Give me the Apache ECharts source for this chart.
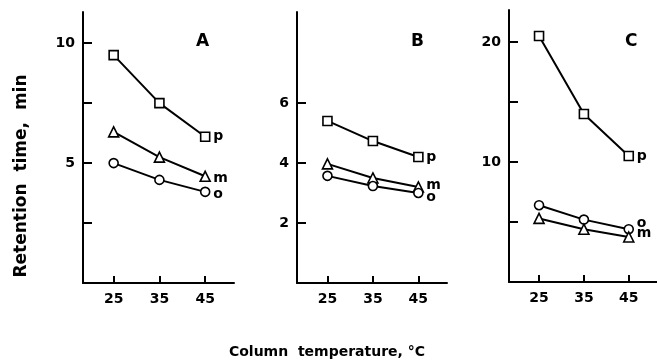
<!DOCTYPE html>
<html lang="en">
<head>
  <meta charset="UTF-8">
  <title>Retention time vs column temperature</title>
  <script src="https://cdn.jsdelivr.net/npm/echarts@6.0.0/dist/echarts.min.js"></script>
  <style>
    html, body { margin: 0; padding: 0; background: #fff; }
    #chart { width: 657px; height: 364px; }
  </style>
</head>
<body>
<div id="chart"></div>
<script>
  // temperatures (x) shared by all three panels
  var temps = [25, 35, 45];

  // panel A
  var aP = [9.5, 7.5, 6.1];
  var aM = [6.3, 5.25, 4.45];
  var aO = [5.0, 4.3, 3.8];
  // panel B
  var bP = [5.4, 4.73, 4.2];
  var bM = [3.97, 3.5, 3.2];
  var bO = [3.57, 3.23, 3.0];
  // panel C
  var cP = [20.5, 14.0, 10.5];
  var cO = [6.4, 5.2, 4.4];
  var cM = [5.3, 4.4, 3.75];

  // tick positions / labels
  var xTicks = [25, 35, 45];
  var aTicks = [2.5, 5, 7.5, 10];
  var aLabels = [5, 10];
  var bTicks = [2, 4, 6];
  var bLabels = [2, 4, 6];
  var cTicks = [5, 10, 15, 20];
  var cLabels = [10, 20];

  var font = 'DejaVu Sans';
  var chart = echarts.init(document.getElementById('chart'));

  function pts(ys) {
    return temps.map(function (t, i) { return [t, ys[i]]; });
  }

  function xAxis(idx) {
    return {
      type: 'value', gridIndex: idx, min: 18.3, max: 51.3,
      axisLine: { lineStyle: { color: '#000', width: 2 } },
      axisTick: { inside: true, length: 7, customValues: xTicks, lineStyle: { color: '#000', width: 2 } },
      axisLabel: { customValues: xTicks, color: '#000', fontFamily: font, fontWeight: 'bold', fontSize: 14, margin: 9 },
      splitLine: { show: false }
    };
  }

  function yAxis(idx, max, ticks, labels) {
    return {
      type: 'value', gridIndex: idx, min: 0, max: max,
      axisLine: { show: true, lineStyle: { color: '#000', width: 2 } },
      axisTick: { show: true, inside: true, length: 9, customValues: ticks, lineStyle: { color: '#000', width: 2 } },
      axisLabel: { customValues: labels, color: '#000', fontFamily: font, fontWeight: 'bold', fontSize: 14, margin: 8 },
      splitLine: { show: false }
    };
  }

  function line(idx, ys, symbol, name, off) {
    return {
      type: 'line', xAxisIndex: idx, yAxisIndex: idx,
      data: pts(ys), symbol: symbol, symbolSize: symbol === 'triangle' ? 10 : 9,
      showAllSymbol: true,
      lineStyle: { color: '#000', width: 2 },
      itemStyle: { color: '#fff', borderColor: '#000', borderWidth: 1.6 },
      z: 3,
      endLabel: {
        show: true, formatter: name, color: '#000', fontFamily: font,
        fontWeight: 'bold', fontSize: 14, distance: 8, offset: off || [0, 0]
      },
      animation: false
    };
  }

  var option = {
    animation: false,
    backgroundColor: '#fff',
    grid: [
      { left: 83, top: 12, width: 151, height: 271 },
      { left: 297, top: 12, width: 150, height: 271 },
      { left: 509, top: 10, width: 148, height: 272 }
    ],
    xAxis: [xAxis(0), xAxis(1), xAxis(2)],
    yAxis: [
      yAxis(0, 11.3, aTicks, aLabels),
      yAxis(1, 9.03, bTicks, bLabels),
      yAxis(2, 22.67, cTicks, cLabels)
    ],
    series: [
      line(0, aP, 'rect', 'p', [0, 0]),
      line(0, aM, 'triangle', 'm', [0, 2]),
      line(0, aO, 'circle', 'o', [0, 2]),
      line(1, bP, 'rect', 'p', [0, 0]),
      line(1, bM, 'triangle', 'm', [0, -2]),
      line(1, bO, 'circle', 'o', [0, 4]),
      line(2, cP, 'rect', 'p', [0, 0]),
      line(2, cO, 'circle', 'o', [0, -6]),
      line(2, cM, 'triangle', 'm', [0, -4])
    ],
    graphic: [
      { type: 'text', left: 196, top: 33, style: { text: 'A', font: 'bold 17px "DejaVu Sans"', fill: '#000' } },
      { type: 'text', left: 411, top: 33, style: { text: 'B', font: 'bold 17px "DejaVu Sans"', fill: '#000' } },
      { type: 'text', left: 625, top: 33, style: { text: 'C', font: 'bold 17px "DejaVu Sans"', fill: '#000' } },
      {
        type: 'text', x: 22, y: 176, rotation: Math.PI / 2,
        style: { text: 'Retention  time,  min', font: 'bold 17px "DejaVu Sans"', fill: '#000', align: 'center', verticalAlign: 'middle' }
      },
      {
        type: 'text', x: 327, y: 352,
        style: { text: 'Column  temperature, °C', font: 'bold 14px "DejaVu Sans"', fill: '#000', align: 'center', verticalAlign: 'middle' }
      }
    ]
  };

  chart.setOption(option);
</script>
</body>
</html>
